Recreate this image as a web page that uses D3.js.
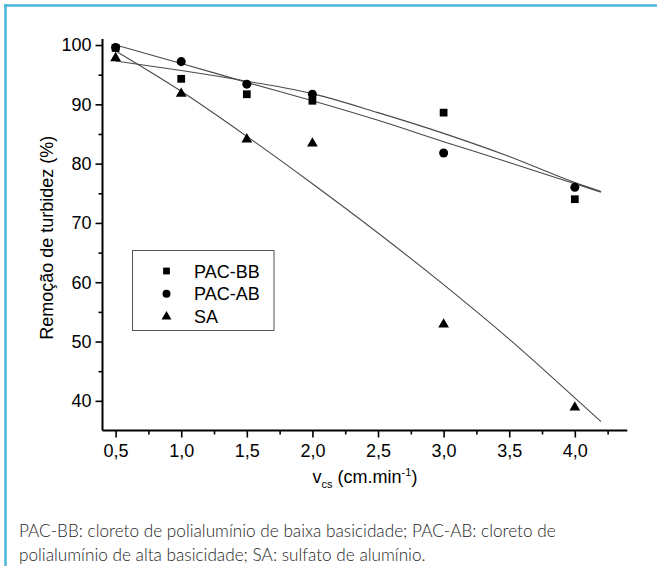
<!DOCTYPE html>
<html>
<head>
<meta charset="utf-8">
<script src="https://cdn.jsdelivr.net/npm/d3@7"></script>
<style>
  html, body { margin: 0; padding: 0; background: #fff; }
  svg { display: block; }
</style>
</head>
<body>
<svg id="chart" width="657" height="566"></svg>
<script>
// ---- data ----
const xValues   = [0.5, 1.0, 1.5, 2.0, 3.0, 4.0];
const pacBB     = [99.5, 94.3, 91.7, 90.6, 88.6, 74.0];
const pacAB     = [99.6, 97.2, 93.4, 91.7, 81.8, 76.0];
const sa        = [97.8, 91.8, 84.1, 83.4, 52.9, 38.9];

// fitted curves as drawn in the figure (read at these x positions)
const fitX      = [0.5, 1.0, 1.5, 2.0, 2.5, 3.0, 3.5, 4.0, 4.2];
const fitBB     = [97.3, 95.7, 93.9, 91.8, 88.6, 85.1, 81.2, 76.8, 75.3];
const fitAB     = [100.0, 96.9, 93.7, 90.6, 87.3, 83.7, 80.2, 76.6, 75.2];
const fitSA     = [99.0, 92.2, 84.6, 76.6, 68.3, 59.6, 50.4, 40.5, 36.5];

const seriesNames = ["PAC-BB", "PAC-AB", "SA"];
const xMajorTicks = [0.5, 1.0, 1.5, 2.0, 2.5, 3.0, 3.5, 4.0];
const xMinorTicks = [0.75, 1.25, 1.75, 2.25, 2.75, 3.25, 3.75, 4.25];
const yMajorTicks = [40, 50, 60, 70, 80, 90, 100];
const yMinorTicks = [45, 55, 65, 75, 85, 95];
const caption1 = "PAC-BB: cloreto de polialumínio de baixa basicidade; PAC-AB: cloreto de";
const caption2 = "polialumínio de alta basicidade; SA: sulfato de alumínio.";

// ---- drawing ----
const svg = d3.select("#chart");
const FONT = "'Liberation Sans', Arial, sans-serif";

const x = d3.scaleLinear().domain([0.4, 4.4]).range([102.5, 627.3]);
const y = d3.scaleLinear().domain([35, 101]).range([430.5, 39.1]);

// frame (top + left light-blue border)
svg.append("line").attr("x1", 4).attr("x2", 657).attr("y1", 5.5).attr("y2", 5.5)
  .attr("stroke", "#4cb5dd").attr("stroke-width", 2.5);
svg.append("line").attr("x1", 5.5).attr("x2", 5.5).attr("y1", 4).attr("y2", 566)
  .attr("stroke", "#4cb5dd").attr("stroke-width", 2.5);

// axes
const xAxisG = svg.append("g").attr("transform", `translate(0,${y(35)})`);
xAxisG.call(d3.axisBottom(x).tickValues(xMajorTicks).tickSize(7).tickPadding(7)
  .tickFormat(d => d3.format(".1f")(d).replace(".", ",")));
xAxisG.append("g").call(d3.axisBottom(x).tickValues(xMinorTicks).tickSize(4).tickFormat(""))
  .select(".domain").remove();

const yAxisG = svg.append("g").attr("transform", `translate(${x(0.4)},0)`);
yAxisG.call(d3.axisLeft(y).tickValues(yMajorTicks).tickSize(7).tickPadding(4));
yAxisG.append("g").call(d3.axisLeft(y).tickValues(yMinorTicks).tickSize(4).tickFormat(""))
  .select(".domain").remove();

svg.selectAll(".domain").attr("stroke", "#000").attr("stroke-width", 2);
svg.selectAll(".tick line").attr("stroke", "#000").attr("stroke-width", 1.6);
svg.selectAll(".tick text").attr("font-family", FONT).attr("font-size", 18).attr("fill", "#000");

// fix domain endpoints (no outer ticks)
xAxisG.select(".domain").attr("d", `M${x(0.4)},0H${x(4.4)}`);
yAxisG.select(".domain").attr("d", `M0,${y(101)}V${y(35)}`);

// axis titles
svg.append("text")
  .attr("transform", `translate(53,${y(67.5)}) rotate(-90)`)
  .attr("text-anchor", "middle")
  .attr("font-family", FONT).attr("font-size", 18)
  .text("Remoção de turbidez (%)");

const xt = svg.append("text")
  .attr("x", 365).attr("y", 483)
  .attr("text-anchor", "middle")
  .attr("font-family", FONT).attr("font-size", 18);
xt.append("tspan").text("v");
xt.append("tspan").attr("font-size", 11).attr("dy", 5).text("cs");
xt.append("tspan").attr("dy", -5).text(" (cm.min");
xt.append("tspan").attr("font-size", 11).attr("dy", -7).text("-1");
xt.append("tspan").attr("dy", 7).text(")");

// fit lines
const line = d3.line().x(d => x(d[0])).y(d => y(d[1])).curve(d3.curveMonotoneX);
[fitBB, fitAB, fitSA].forEach(f => {
  svg.append("path")
    .attr("d", line(fitX.map((v, i) => [v, f[i]])))
    .attr("fill", "none").attr("stroke", "#4a4a4a").attr("stroke-width", 1.1);
});

// markers
const symbols = [
  d3.symbol().type(d3.symbolSquare).size(60),
  d3.symbol().type(d3.symbolCircle).size(64),
  d3.symbol().type(d3.symbolTriangle).size(50)
];
[pacBB, pacAB, sa].forEach((s, k) => {
  svg.append("g").selectAll("path").data(xValues.map((v, i) => [v, s[i]]))
    .join("path")
    .attr("transform", d => `translate(${x(d[0])},${y(d[1])})`)
    .attr("d", symbols[k]())
    .attr("fill", "#000");
});

// legend
const lg = svg.append("g");
lg.append("rect").attr("x", 132.5).attr("y", 250.5).attr("width", 141.5).attr("height", 80)
  .attr("fill", "#fff").attr("stroke", "#555").attr("stroke-width", 1);
const legSymbols = [
  d3.symbol().type(d3.symbolSquare).size(46),
  d3.symbol().type(d3.symbolCircle).size(50),
  d3.symbol().type(d3.symbolTriangle).size(42)
];
seriesNames.forEach((n, i) => {
  const cy = 271 + i * 22.8;
  lg.append("path").attr("transform", `translate(166.5,${cy})`)
    .attr("d", legSymbols[i]()).attr("fill", "#000");
  lg.append("text").attr("x", 194).attr("y", cy + 6.5)
    .attr("font-family", FONT).attr("font-size", 18).text(n);
});

// caption
const CAPFONT = "Lato, 'Open Sans', sans-serif";
svg.append("text").attr("x", 19).attr("y", 537)
  .attr("font-family", CAPFONT).attr("font-weight", 300).attr("font-size", 17.2)
  .attr("fill", "#1e1e1e").text(caption1);
svg.append("text").attr("x", 19).attr("y", 561)
  .attr("font-family", CAPFONT).attr("font-weight", 300).attr("font-size", 17.2)
  .attr("fill", "#1e1e1e").text(caption2);
</script>
</body>
</html>
